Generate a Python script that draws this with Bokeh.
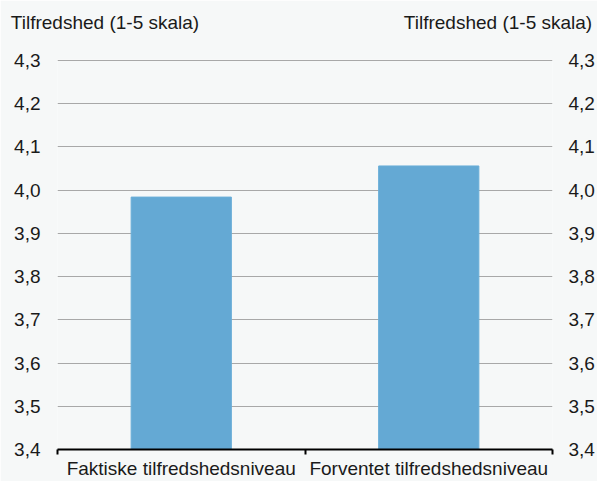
from bokeh.plotting import figure
from bokeh.models import Range1d, FixedTicker, LinearAxis, CustomJSTickFormatter, ColumnDataSource, Grid
from bokeh.embed import file_html
from bokeh.resources import INLINE

categories = ["Faktiske tilfredshedsniveau", "Forventet tilfredshedsniveau"]
values = [3.984, 4.056]
y_ticks = [3.4, 3.5, 3.6, 3.7, 3.8, 3.9, 4.0, 4.1, 4.2, 4.3]
axis_title = "Tilfredshed (1-5 skala)"

FONT = "Liberation Sans"
FS = "19px"
TXT = "#1a1a1a"
BG = "#f6f8f8"

xs = [i + 0.5 for i in range(len(categories))]
src = ColumnDataSource(dict(x=xs, top=values, cat=categories))

W, H = 597, 481
ML, MR, MT, MB = 57, 45, 59, 32

# small headroom so the top gridline is not clipped at the frame edge
p = figure(width=W, height=H, output_backend="svg", toolbar_location=None,
           x_range=Range1d(0, len(categories)), y_range=Range1d(y_ticks[0], y_ticks[-1] + 0.0023),
           min_border_left=ML, min_border_right=MR, min_border_top=MT, min_border_bottom=MB,
           x_axis_type=None, y_axis_type=None)
p.background_fill_color = BG
p.border_fill_color = BG
p.outline_line_color = None

yt = FixedTicker(ticks=y_ticks)
p.add_layout(Grid(dimension=1, ticker=yt, grid_line_color="#a8a8a8", grid_line_width=1))

p.vbar(x="x", top="top", bottom=y_ticks[0], width=0.405, source=src,
       fill_color="#64a9d4", line_color="#6aaed8", line_width=1)

fmt = CustomJSTickFormatter(code="return tick.toFixed(1).replace('.', ',');")

for side, standoff in (("left", 17), ("right", 16)):
    ax = LinearAxis(ticker=yt, formatter=fmt)
    ax.axis_line_color = None
    ax.major_tick_line_color = None
    ax.minor_tick_line_color = None
    ax.major_tick_out = 0
    ax.major_tick_in = 0
    ax.major_label_standoff = standoff
    ax.major_label_text_font = FONT
    ax.major_label_text_font_size = FS
    ax.major_label_text_color = TXT
    p.add_layout(ax, side)

xa = LinearAxis(ticker=FixedTicker(ticks=xs, minor_ticks=list(range(len(categories) + 1))))
xa.major_label_overrides = {x: c for x, c in zip(xs, categories)}
xa.axis_line_color = "black"
xa.axis_line_width = 2
xa.major_tick_line_color = None
xa.major_tick_out = 0
xa.major_tick_in = 0
xa.minor_tick_line_color = "black"
xa.minor_tick_line_width = 2
xa.minor_tick_out = 5
xa.minor_tick_in = 0
xa.major_label_standoff = 3
xa.major_label_text_font = FONT
xa.major_label_text_font_size = FS
xa.major_label_text_color = TXT
p.add_layout(xa, "below")

# unit titles above the left and right value axes
FW = W - ML - MR
title_pos = [(104.5 - ML) / FW * len(categories), (497.5 - ML) / FW * len(categories)]
ta = LinearAxis(ticker=FixedTicker(ticks=title_pos))
ta.major_label_overrides = {t: axis_title for t in title_pos}
ta.axis_line_color = None
ta.major_tick_line_color = None
ta.minor_tick_line_color = None
ta.major_tick_out = 0
ta.major_tick_in = 0
ta.major_label_standoff = 27
ta.major_label_text_font = FONT
ta.major_label_text_font_size = FS
ta.major_label_text_color = TXT
p.add_layout(ta, "above")

open("out.html", "w").write(file_html(p, INLINE))
